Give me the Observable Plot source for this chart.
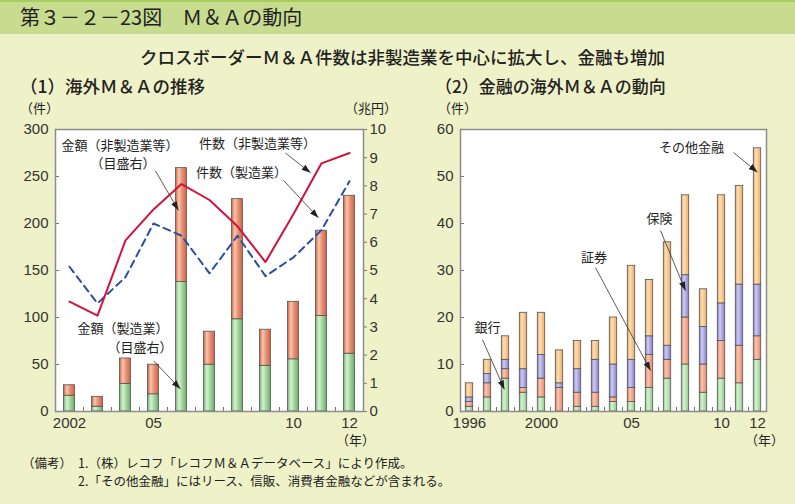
<!DOCTYPE html>
<html><head><meta charset="utf-8">
<script src="https://cdn.jsdelivr.net/npm/d3@7"></script>
<script src="https://cdn.jsdelivr.net/npm/@observablehq/plot@0.6"></script>
<style>
body{margin:0;}
#root{position:relative;width:795px;height:504px;background:#eff2c8;overflow:hidden;font-family:"Liberation Sans","Noto Sans CJK JP",sans-serif;color:#222;}
.t{position:absolute;white-space:nowrap;line-height:1;font-family:"Noto Sans CJK JP",sans-serif;}
#band{position:absolute;left:0;top:0;width:795px;height:34px;background:#c7dc8f;border-top:2px solid #a8cd5e;box-sizing:border-box;}
.layer{position:absolute;}
</style></head>
<body>
<svg width="0" height="0" style="position:absolute">
<defs>
<linearGradient id="gGreenL" x1="0" x2="1" y1="0" y2="0">
<stop offset="0" stop-color="#6cb369"/><stop offset="0.3" stop-color="#d8f0d1"/><stop offset="0.6" stop-color="#a6d79f"/><stop offset="1" stop-color="#69ad66"/></linearGradient>
<linearGradient id="gOrangeL" x1="0" x2="1" y1="0" y2="0">
<stop offset="0" stop-color="#d0603f"/><stop offset="0.3" stop-color="#f6c8b1"/><stop offset="0.6" stop-color="#e89072"/><stop offset="1" stop-color="#cf6446"/></linearGradient>
<linearGradient id="gGreenR" x1="0" x2="1" y1="0" y2="0">
<stop offset="0" stop-color="#86c683"/><stop offset="0.35" stop-color="#d9f0d3"/><stop offset="1" stop-color="#8fca8b"/></linearGradient>
<linearGradient id="gSalmonR" x1="0" x2="1" y1="0" y2="0">
<stop offset="0" stop-color="#e07d5e"/><stop offset="0.35" stop-color="#f7c7b1"/><stop offset="1" stop-color="#e4876a"/></linearGradient>
<linearGradient id="gPurpleR" x1="0" x2="1" y1="0" y2="0">
<stop offset="0" stop-color="#7d79c6"/><stop offset="0.35" stop-color="#cfcdf0"/><stop offset="1" stop-color="#8480ca"/></linearGradient>
<linearGradient id="gOrangeR" x1="0" x2="1" y1="0" y2="0">
<stop offset="0" stop-color="#eba458"/><stop offset="0.35" stop-color="#fbe0b9"/><stop offset="1" stop-color="#eeab62"/></linearGradient>
<marker id="ah" viewBox="0 0 10 10" refX="10" refY="5" markerWidth="9" markerHeight="9" markerUnits="userSpaceOnUse" orient="auto">
<path d="M0,1.5L10,5L0,8.5z" fill="#222"/></marker>
</defs></svg>
<div id="root">
<div id="band"></div>
<div class="t" style="left:20px;top:7px;font-size:20px;color:#222;">第３－２－23図　Ｍ＆Ａの動向</div>
<div class="t" style="left:140px;top:48px;font-size:17.5px;font-weight:500;">クロスボーダーＭ＆Ａ件数は非製造業を中心に拡大し、金融も増加</div>
<div class="t" style="left:20px;top:77px;font-size:17.5px;font-weight:500;">（1）海外Ｍ＆Ａの推移</div>
<div class="t" style="left:435px;top:77px;font-size:17px;font-weight:500;">（2）金融の海外Ｍ＆Ａの動向</div>
<div class="t" style="left:20px;top:101px;font-size:13px;">（件）</div>
<div class="t" style="left:345px;top:101px;font-size:13px;">（兆円）</div>
<div class="t" style="left:438px;top:101px;font-size:13px;">（件）</div>
<div class="t" style="left:336px;top:433px;font-size:13px;">（年）</div>
<div class="t" style="left:745px;top:433px;font-size:13px;">（年）</div>
<div class="t" style="left:22px;top:457px;font-size:12.5px;">（備考）</div>
<div class="t" style="left:78px;top:457px;font-size:12.5px;">1.（株）レコフ「レコフＭ＆Ａデータベース」により作成。</div>
<div class="t" style="left:78px;top:475px;font-size:12.5px;">2.「その他金融」にはリース、信販、消費者金融などが含まれる。</div>
<div id="L1" class="layer" style="left:0;top:110px"></div>
<div id="L2" class="layer" style="left:0;top:110px"></div>
<div id="R1" class="layer" style="left:405px;top:110px"></div>
<div id="R2" class="layer" style="left:405px;top:110px"></div>
</div>
<script>
// ---------- Panel (1) data ----------
const leftYears = [2002,2003,2004,2005,2006,2007,2008,2009,2010,2011,2012];
const amountManuf    = [0.56,0.17,0.98,0.61,4.59,1.66,3.27,1.62,1.85,3.39,2.05]; // 兆円
const amountNonManuf = [0.37,0.35,0.90,1.05,4.04,1.17,4.26,1.28,2.04,3.02,5.60]; // 兆円
const countManuf     = [154,115,143,200,187,147,187,144,164,193,245]; // 件
const countNonManuf  = [117,102,182,215,242,225,197,159,210,264,275]; // 件
const leftCountTicks = [0,50,100,150,200,250,300];
const leftAmountTicks = [0,1,2,3,4,5,6,7,8,9,10];
const leftLabelYears = [2002,2005,2010,2012];
const leftLabelTexts = ["2002","05","10","12"];
const leftNotes = [
  {text:"金額（非製造業等）", x:2003.80, y:283},
  {text:"（目盛右）", x:2003.91, y:264},
  {text:"件数（非製造業等）", x:2008.71, y:285},
  {text:"件数（製造業）", x:2008.14, y:254},
  {text:"金額（製造業）", x:2003.91, y:88},
  {text:"（目盛右）", x:2004.52, y:68}
];
const leftArrows = [
  {x1:2005.07, y1:256, x2:2005.89, y2:214},
  {x1:2009.71, y1:275, x2:2010.61, y2:254},
  {x1:2009.64, y1:246, x2:2010.89, y2:206},
  {x1:2005.00, y1:54,  x2:2005.96, y2:24}
];

// ---------- Panel (2) data ----------
const rightYears = [1996,1997,1998,1999,2000,2001,2002,2003,2004,2005,2006,2007,2008,2009,2010,2011,2012];
const banks      = [1,3,7,4,3,0,1,1,2,2,5,7,10,4,7,6,11];
const securities = [1,3,2,1,4,5,3,3,1,3,7,4,10,6,8,8,5];
const insurance  = [1,2,2,4,5,1,5,7,7,6,4,3,9,8,8,13,11];
const otherFin   = [3,3,5,12,9,7,6,4,10,20,12,22,17,8,23,21,29];
const rightSeries = ["銀行","証券","保険","その他金融"];
const rightTicks = [0,10,20,30,40,50,60];
const rightLabelYears = [1996,2000,2005,2010,2012];
const rightLabelTexts = ["1996","2000","05","10","12"];
const rightNotes = [
  {text:"その他金融", x:2008.33, y:56},
  {text:"保険", x:2006.56, y:41},
  {text:"証券", x:2002.92, y:32.8},
  {text:"銀行", x:1997.0, y:17.9}
];
const rightArrows = [
  {x1:2010.67, y1:55.1, x2:2012.0, y2:50.9},
  {x1:2006.61, y1:38.5, x2:2008.0, y2:25.7},
  {x1:2003.0,  y1:30.6, x2:2006.06, y2:8.7},
  {x1:1996.72, y1:15.3, x2:1997.94, y2:4.7}
];

const FONT = "'Liberation Sans','Noto Sans CJK JP',sans-serif";
const styleT = {background:"transparent", overflow:"visible", fontFamily:FONT, color:"#333"};

function fixArrows(svg){
  d3.select(svg).selectAll('g[aria-label="link"] path').attr("marker-end","url(#ah)");
  return svg;
}

// ----- Panel 1: bars (right axis, 兆円) -----
const barData1 = [];
leftYears.forEach((y,i)=>{
  barData1.push({year:y, series:"製造業", value:amountManuf[i]});
  barData1.push({year:y, series:"非製造業等", value:amountNonManuf[i]});
});
const dimsL = {width:410, height:340, marginLeft:55, marginRight:47, marginTop:19, marginBottom:39};
const p1 = Plot.plot({
  ...dimsL, style:styleT,
  x:{type:"band", domain:leftYears, padding:0, axis:null},
  y:{domain:[0,10], axis:null},
  color:{domain:["製造業","非製造業等"], range:["url(#gGreenL)","url(#gOrangeL)"]},
  marks:[
    Plot.frame({fill:"white", stroke:"none"}),
    Plot.barY(barData1, {x:"year", y:"value", fill:"series", stroke:"#555", strokeWidth:0.8, insetLeft:8.5, insetRight:8.5}),
    Plot.axisY(leftAmountTicks, {anchor:"right", label:null, tickSize:3, tickPadding:3, fontSize:15, stroke:"#777", fill:"#333"})
  ]
});
document.getElementById("L1").append(p1);

// ----- Panel 1: lines (left axis, 件) -----
const lineMan = leftYears.map((y,i)=>({year:y, v:countManuf[i]}));
const lineNon = leftYears.map((y,i)=>({year:y, v:countNonManuf[i]}));
const p2 = Plot.plot({
  ...dimsL, style:styleT,
  x:{domain:[leftYears[0]-0.5, leftYears[leftYears.length-1]+0.5], axis:null},
  y:{domain:[0,300], axis:null},
  marks:[
    Plot.line(lineMan, {x:"year", y:"v", stroke:"#2a4ea6", strokeWidth:2, strokeDasharray:"7,5"}),
    Plot.line(lineNon, {x:"year", y:"v", stroke:"#d3123c", strokeWidth:2}),
    Plot.axisY(leftCountTicks, {anchor:"left", label:null, tickSize:-4, tickPadding:11, fontSize:15, stroke:"#777", fill:"#333"}),
    Plot.axisX(leftYears.slice(0,-1).map(y=>y+0.5), {anchor:"bottom", label:null, tickSize:-4, tickFormat:()=>"", stroke:"#777"}),
    Plot.axisX(leftLabelYears, {anchor:"bottom", label:null, tickSize:0, tickPadding:6, fontSize:15, fill:"#333", tickFormat:d=>leftLabelTexts[leftLabelYears.indexOf(d)]}),
    Plot.text(leftNotes, {x:"x", y:"y", text:"text", fontSize:13, fill:"#222", fontFamily:"'Noto Sans CJK JP',sans-serif"}),
    Plot.link(leftArrows, {x1:"x1", y1:"y1", x2:"x2", y2:"y2", stroke:"#333", strokeWidth:0.8}),
    Plot.frame({stroke:"#8c8c8c", strokeWidth:1.5})
  ]
});
document.getElementById("L2").append(fixArrows(p2));

// ----- Panel 2: stacked bars -----
const barData2 = [];
rightYears.forEach((y,i)=>{
  barData2.push({year:y, series:"銀行", value:banks[i]});
  barData2.push({year:y, series:"証券", value:securities[i]});
  barData2.push({year:y, series:"保険", value:insurance[i]});
  barData2.push({year:y, series:"その他金融", value:otherFin[i]});
});
const dimsR = {width:390, height:340, marginLeft:55, marginRight:29, marginTop:19, marginBottom:39};
const p3 = Plot.plot({
  ...dimsR, style:styleT,
  x:{type:"band", domain:rightYears, padding:0, axis:null},
  y:{domain:[0,60], axis:null},
  color:{domain:rightSeries, range:["url(#gGreenR)","url(#gSalmonR)","url(#gPurpleR)","url(#gOrangeR)"]},
  marks:[
    Plot.frame({fill:"white", stroke:"none"}),
    Plot.barY(barData2, {x:"year", y:"value", fill:"series", stroke:"#555", strokeWidth:0.8, insetLeft:5.3, insetRight:5.3})
  ]
});
document.getElementById("R1").append(p3);

const p4 = Plot.plot({
  ...dimsR, style:styleT,
  x:{domain:[rightYears[0]-0.5, rightYears[rightYears.length-1]+0.5], axis:null},
  y:{domain:[0,60], axis:null},
  marks:[
    Plot.axisY(rightTicks, {anchor:"left", label:null, tickSize:-4, tickPadding:11, fontSize:15, stroke:"#777", fill:"#333"}),
    Plot.axisX(rightYears.slice(0,-1).map(y=>y+0.5), {anchor:"bottom", label:null, tickSize:-4, tickFormat:()=>"", stroke:"#777"}),
    Plot.axisX(rightLabelYears, {anchor:"bottom", label:null, tickSize:0, tickPadding:6, fontSize:15, fill:"#333", tickFormat:d=>rightLabelTexts[rightLabelYears.indexOf(d)]}),
    Plot.text(rightNotes, {x:"x", y:"y", text:"text", fontSize:13, fill:"#222", fontFamily:"'Noto Sans CJK JP',sans-serif"}),
    Plot.link(rightArrows, {x1:"x1", y1:"y1", x2:"x2", y2:"y2", stroke:"#333", strokeWidth:0.8}),
    Plot.frame({stroke:"#8c8c8c", strokeWidth:1.5})
  ]
});
document.getElementById("R2").append(fixArrows(p4));
</script>
</body></html>
